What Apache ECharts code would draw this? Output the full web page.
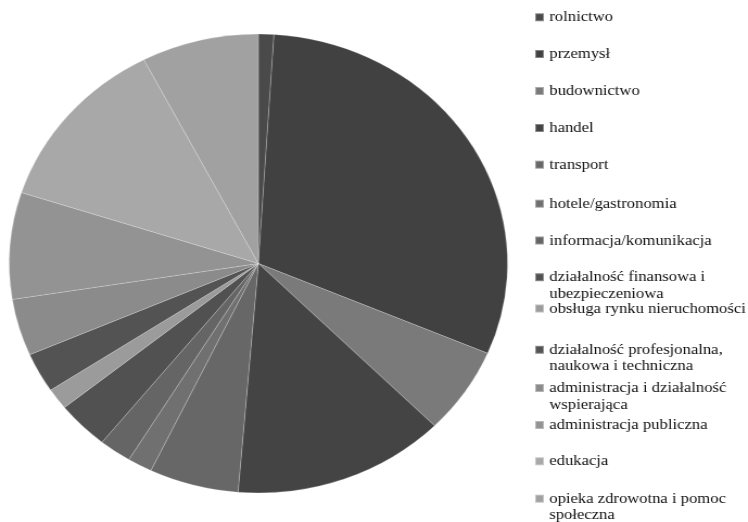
<!DOCTYPE html>
<html>
<head>
<meta charset="utf-8">
<script src="https://cdn.jsdelivr.net/npm/echarts@6/dist/echarts.min.js"></script>
<style>
  html, body { margin: 0; padding: 0; background: #fff; overflow: hidden; }
  #wrap { width: 748px; height: 522px; overflow: hidden; position: relative; }
  #chart { width: 689px; height: 522px; transform: scaleX(1.0856); transform-origin: 0 0; }
</style>
</head>
<body>
<div id="wrap"><div id="chart"></div></div>
<script>
// Data (percent shares)
var categories = [
  'rolnictwo',
  'przemysł',
  'budownictwo',
  'handel',
  'transport',
  'hotele/gastronomia',
  'informacja/komunikacja',
  'działalność finansowa i ubezpieczeniowa',
  'obsługa rynku nieruchomości',
  'działalność profesjonalna, naukowa i techniczna',
  'administracja i działalność wspierająca',
  'administracja publiczna',
  'edukacja',
  'opieka zdrowotna i pomoc społeczna'
];
var values = [1.0, 30.4, 6.1, 13.8, 5.8, 1.6, 2.1, 3.4, 1.5, 2.8, 4.0, 7.5, 12.4, 7.6];
var legendLabels = [
  'rolnictwo',
  'przemysł',
  'budownictwo',
  'handel',
  'transport',
  'hotele/gastronomia',
  'informacja/komunikacja',
  'działalność finansowa i\nubezpieczeniowa',
  'obsługa rynku nieruchomości',
  'działalność profesjonalna,\nnaukowa i techniczna',
  'administracja i działalność\nwspierająca',
  'administracja publiczna',
  'edukacja',
  'opieka zdrowotna i pomoc\nspołeczna'
];

// Styles / layout
var colors = ['#4a4a4a', '#414141', '#7a7a7a', '#444444', '#676767', '#707070', '#656565',
              '#515151', '#9b9b9b', '#535353', '#8b8b8b', '#939393', '#a8a8a8', '#a1a1a1'];
var legendCenters = [17.3, 54, 91, 128, 164.7, 203.7, 240.5, 277.2, 308.5, 349.8, 388, 425, 461.3, 498.7];
var LINE_H = 16.5;
var FONT = 15.3;

var chart = echarts.init(document.getElementById('chart'), null, { renderer: 'canvas' });

var legends = categories.map(function (name, i) {
  var label = legendLabels[i];
  var multi = label.indexOf('\n') >= 0;
  var h = multi ? 3 * LINE_H : LINE_H;
  return {
    show: true,
    orient: 'vertical',
    left: 492,
    top: legendCenters[i] - h / 2,
    padding: 0,
    itemWidth: 8,
    itemHeight: 8,
    icon: 'rect',
    selectedMode: false,
    data: [name],
    formatter: function () { return multi ? ' \n' + label : label; },
    textStyle: {
      fontFamily: '"Liberation Serif", "Times New Roman", serif',
      fontSize: FONT,
      lineHeight: LINE_H,
      color: '#111'
    }
  };
});

chart.setOption({
  animation: false,
  backgroundColor: '#ffffff',
  legend: legends,
  series: [{
    type: 'pie',
    center: [238, 263.5],
    radius: 229.5,
    startAngle: 90,
    clockwise: true,
    label: { show: false },
    labelLine: { show: false },
    emphasis: { disabled: true },
    silent: true,
    itemStyle: {
      borderColor: 'rgba(255,255,255,0.35)',
      borderWidth: 0.6
    },
    data: categories.map(function (name, i) {
      return { name: name, value: values[i], itemStyle: { color: colors[i] } };
    })
  }]
});
</script>
</body>
</html>
